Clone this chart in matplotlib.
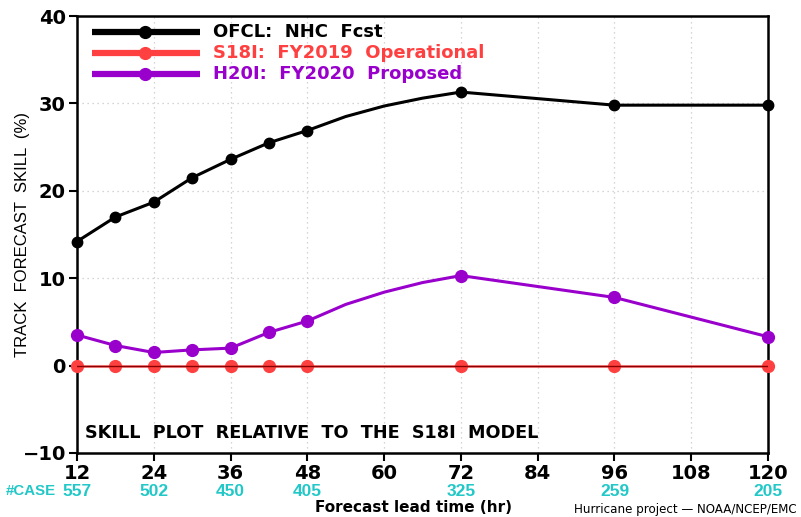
import matplotlib
matplotlib.use("Agg")
import matplotlib.pyplot as plt
from matplotlib import font_manager

# Forecast lead times (hr); marked verification times and full curve times
lead_marked = [12, 18, 24, 30, 36, 42, 48, 72, 96, 120]
lead_curve = [12, 18, 24, 30, 36, 42, 48, 54, 60, 66, 72, 96, 120]

ofcl_curve = [14.2, 17.0, 18.7, 21.5, 23.6, 25.5, 26.9, 28.5, 29.7, 30.6, 31.3, 29.8, 29.8]
h20i_curve = [3.5, 2.3, 1.5, 1.8, 2.0, 3.8, 5.1, 7.0, 8.4, 9.5, 10.3, 7.8, 3.3]
s18i_marked = [0, 0, 0, 0, 0, 0, 0, 0, 0, 0]

ofcl_marked = [14.2, 17.0, 18.7, 21.5, 23.6, 25.5, 26.9, 31.3, 29.8, 29.8]
h20i_marked = [3.5, 2.3, 1.5, 1.8, 2.0, 3.8, 5.1, 10.3, 7.8, 3.3]

case_hours = [12, 24, 36, 48, 72, 96, 120]
case_counts = ["557", "502", "450", "405", "325", "259", "205"]

x_ticks = [12, 24, 36, 48, 60, 72, 84, 96, 108, 120]
y_ticks = [-10, 0, 10, 20, 30, 40]
y_ticklabels = ["\u221210", "0", "10", "20", "30", "40"]

names = ["OFCL:  NHC  Fcst", "S18I:  FY2019  Operational", "H20I:  FY2020  Proposed"]
colors = ["#000000", "#ff4040", "#9900cc"]

plt.rcParams["font.family"] = ["DejaVu Sans"]

installed = {f.name for f in font_manager.fontManager.ttflist}
narrow = "Liberation Sans Narrow" if "Liberation Sans Narrow" in installed else "Liberation Sans"

fig = plt.figure(figsize=(8.01, 5.17), dpi=100)
ax = fig.add_axes([0.0961, 0.1238, 0.8627, 0.8452])

ax.set_xlim(12, 120)
ax.set_ylim(-10, 40)

# dotted grid
for xv in x_ticks[1:-1]:
    ax.axvline(xv, color="#c8c8c8", lw=0.9, ls=(0, (1, 3)), zorder=0)
for yv in [10, 20, 30]:
    ax.axhline(yv, color="#c8c8c8", lw=0.9, ls=(0, (1, 3)), zorder=0)

# OFCL
ax.plot(lead_curve, ofcl_curve, color=colors[0], lw=2.2, zorder=3, clip_on=False)
ax.plot(lead_marked, ofcl_marked, ls="none", marker="o", ms=7.5, color=colors[0],
        zorder=4, clip_on=False)

# H20I
ax.plot(lead_curve, h20i_curve, color=colors[2], lw=2.2, zorder=3, clip_on=False)
ax.plot(lead_marked, h20i_marked, ls="none", marker="o", ms=8.5, color=colors[2],
        zorder=4, clip_on=False)

# S18I baseline: markers under a dark red reference line
ax.plot(lead_marked, s18i_marked, ls="none", marker="o", ms=8.5, color=colors[1],
        zorder=4, clip_on=False)
ax.plot([12, 120], [0, 0], color="#ff4040", lw=2.2, alpha=0.6, zorder=4.5)
ax.plot([12, 120], [0, 0], color="#8a0000", lw=1.0, zorder=5)

# legend drawn inside the top-left corner
for i, (name, c) in enumerate(zip(names, colors)):
    yy = 0.963 - i * 0.048
    ax.plot([0.022, 0.178], [yy, yy], transform=ax.transAxes, color=c, lw=4.5,
            solid_capstyle="butt", zorder=6, clip_on=False)
    ax.plot([0.098], [yy], transform=ax.transAxes, marker="o", ms=8.5, color=c,
            zorder=7, clip_on=False)
    ax.text(0.197, yy, name, transform=ax.transAxes, color=c, fontsize=13,
            fontweight="bold", va="center", ha="left", zorder=7)

ax.text(0.012, 0.045, "SKILL  PLOT  RELATIVE  TO  THE  S18I  MODEL",
        transform=ax.transAxes, fontsize=12.7, fontweight="bold", ha="left", va="center")

ax.set_xticks(x_ticks)
ax.set_yticks(y_ticks)
ax.set_yticklabels(y_ticklabels)
ax.tick_params(direction="out", length=6, width=1.5, labelsize=14, pad=2)
for lab in ax.get_xticklabels() + ax.get_yticklabels():
    lab.set_fontweight("bold")
for sp in ax.spines.values():
    sp.set_linewidth(1.8)

ax.set_ylabel("TRACK  FORECAST  SKILL  (%)", fontsize=12, family=narrow)
ax.yaxis.set_label_coords(-0.068, 0.5)

# number of verifying cases beneath the hour labels
xt = ax.get_xaxis_transform()
for h, n in zip(case_hours, case_counts):
    ax.text(h, -0.087, n, transform=xt, color="#22c8c8", family="Liberation Sans",
            fontsize=12.5, fontweight="bold", ha="center", va="center")
ax.text(8.7, -0.087, "#CASE", transform=xt, color="#22c8c8",
        family="Liberation Sans", fontsize=10.8, fontweight="bold",
        ha="right", va="center")

fig.text(0.516, 0.018, "Forecast lead time (hr)", fontsize=11, fontweight="bold",
         ha="center", va="center")
fig.text(0.995, 0.014, "Hurricane project \u2014 NOAA/NCEP/EMC", fontsize=8.6,
         ha="right", va="center")

fig.savefig("out.png", dpi=100)
